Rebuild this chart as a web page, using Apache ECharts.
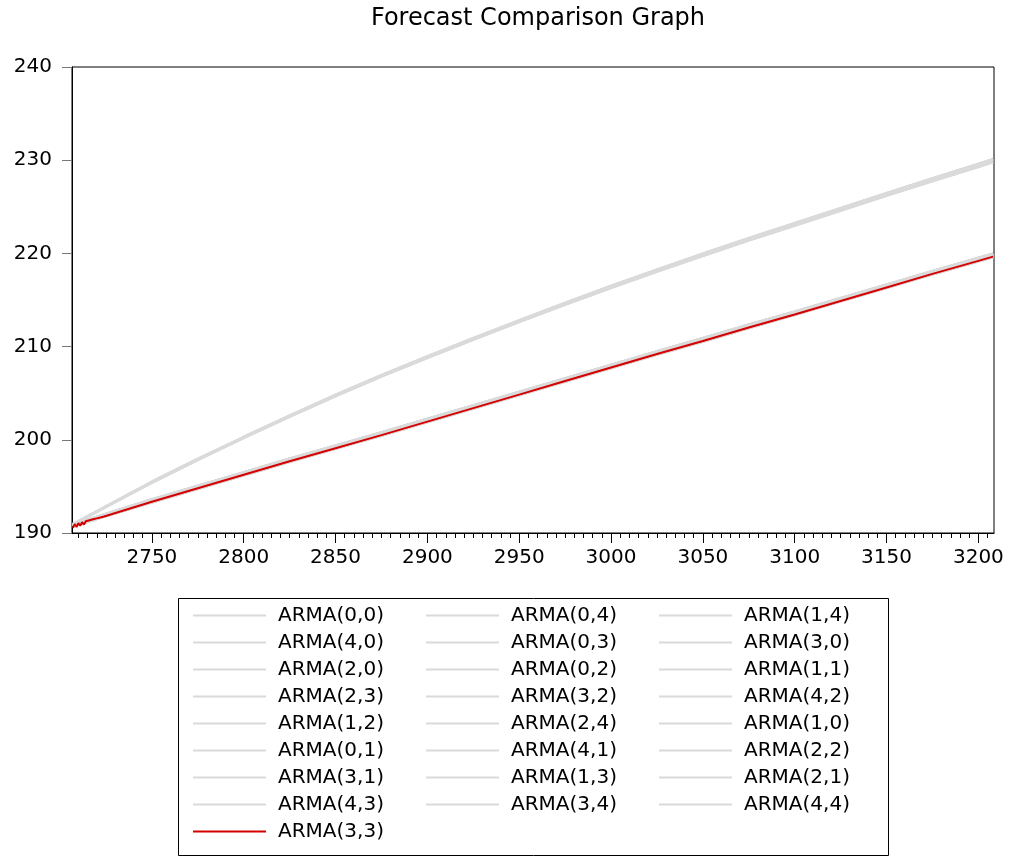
<!DOCTYPE html>
<html>
<head>
<meta charset="utf-8">
<script src="https://cdn.jsdelivr.net/npm/echarts@6/dist/echarts.min.js"></script>
<style>html,body{margin:0;padding:0;background:#fff}#c{width:1014px;height:858px}</style>
</head>
<body>
<div id="c"></div>
<script>
const titleText = 'Forecast Comparison Graph';
const xTickLabels = [2750, 2800, 2850, 2900, 2950, 3000, 3050, 3100, 3150, 3200];
const yTicks = [190, 200, 210, 220, 230, 240];
const seriesNames = ['ARMA(0,0)','ARMA(0,4)','ARMA(1,4)','ARMA(4,0)','ARMA(0,3)','ARMA(3,0)','ARMA(2,0)','ARMA(0,2)','ARMA(1,1)','ARMA(2,3)','ARMA(3,2)','ARMA(4,2)','ARMA(1,2)','ARMA(2,4)','ARMA(1,0)','ARMA(0,1)','ARMA(4,1)','ARMA(2,2)','ARMA(3,1)','ARMA(1,3)','ARMA(2,1)','ARMA(4,3)','ARMA(3,4)','ARMA(4,4)','ARMA(3,3)'];

const periods = [2707, 2725, 2750, 2775, 2800, 2825, 2850, 2875, 2900, 2925, 2950, 2975, 3000, 3025, 3050, 3075, 3100, 3125, 3150, 3175, 3200, 3208];
const upperA = [190.9, 192.8, 195.4, 197.85, 200.2, 202.5, 204.7, 206.8, 208.8, 210.75, 212.65, 214.5, 216.3, 218.05, 219.75, 221.4, 223.0, 224.6, 226.2, 227.75, 229.3, 229.8];
const upperB = [190.95, 192.85, 195.5, 197.95, 200.3, 202.6, 204.82, 206.93, 208.94, 210.9, 212.82, 214.68, 216.5, 218.26, 219.97, 221.63, 223.25, 224.86, 226.47, 228.04, 229.6, 230.1];
const lowerA = [190.88, 192.05, 193.6, 195.06, 196.51, 197.96, 199.37, 200.79, 202.24, 203.69, 205.14, 206.59, 208.04, 209.49, 210.9, 212.35, 213.75, 215.2, 216.65, 218.1, 219.51, 219.96];
const lowerB = [190.8, 191.93, 193.46, 194.91, 196.36, 197.81, 199.22, 200.63, 202.08, 203.53, 204.98, 206.43, 207.88, 209.33, 210.74, 212.19, 213.59, 215.04, 216.49, 217.94, 219.35, 219.8];
const lowerC = [190.72, 191.82, 193.3, 194.75, 196.2, 197.65, 199.05, 200.45, 201.9, 203.35, 204.8, 206.25, 207.7, 209.15, 210.55, 212.0, 213.4, 214.85, 216.3, 217.75, 219.15, 219.6];

const redPeriods = [2707, 2708, 2709, 2710, 2711, 2712, 2713, 2714, 2715, 2716, 2717, 2718, 2719, 2720, 2721, 2722, 2723, 2724, 2725, 2750, 2775, 2800, 2825, 2850, 2875, 2900, 2925, 2950, 2975, 3000, 3025, 3050, 3075, 3100, 3125, 3150, 3175, 3200, 3208];
const redValues = [190.55, 190.95, 190.65, 191.06, 190.78, 191.16, 190.91, 191.26, 191.05, 191.37, 191.18, 191.47, 191.32, 191.57, 191.46, 191.67, 191.60, 191.77, 191.76, 193.35, 194.8, 196.25, 197.7, 199.1, 200.5, 201.95, 203.4, 204.85, 206.3, 207.75, 209.2, 210.6, 212.05, 213.45, 214.9, 216.35, 217.8, 219.2, 219.65];

// which value list each gray series follows (same order as seriesNames, minus the last red one)
const grayGroups = ['upperA','lowerA','lowerB','lowerC','upperB','lowerA','lowerB','upperA','lowerC','lowerA','lowerB','lowerC','lowerA','lowerB','upperB','upperA','lowerC','lowerA','lowerB','lowerC','lowerA','upperB','lowerB','lowerC'];
const groupValues = {upperA, upperB, lowerA, lowerB, lowerC};

const minorTicks = [];
for (let v = 2710; v <= 3205; v += 5) minorTicks.push(v);

const FONT = 'DejaVu Sans';
const GRAY = '#dadada';
const RED = '#d40000';

function pairs(xs, ys) { return xs.map((x, i) => [x, ys[i]]); }

const series = [];
const legendData = [];
seriesNames.forEach((name, i) => {
  const isRed = i === seriesNames.length - 1;
  const color = isRed ? RED : GRAY;
  series.push({
    name, type: 'line', symbol: 'none', silent: true, z: isRed ? 5 : 2,
    data: isRed ? pairs(redPeriods, redValues) : pairs(periods, groupValues[grayGroups[i]]),
    lineStyle: {color, width: isRed ? 2 : 2.5},
    itemStyle: {color}
  });
  legendData.push({name, itemStyle: {color, borderWidth: 0}});
});

const chart = echarts.init(document.getElementById('c'), null, {renderer: 'canvas'});
chart.setOption({
  animation: false,
  backgroundColor: '#fff',
  title: {
    text: titleText, left: 533, top: 2, textAlign: 'center',
    textStyle: {fontFamily: FONT, fontSize: 24, fontWeight: 'normal', color: '#000'}
  },
  grid: {left: 72, right: 20, top: 67, bottom: 325, show: true, borderColor: '#000', borderWidth: 1, containLabel: false},
  xAxis: [{
    type: 'value', min: 2706.5, max: 3208.5, position: 'bottom',
    splitLine: {show: false},
    axisLine: {lineStyle: {color: '#000', width: 1}},
    axisTick: {show: true, inside: false, length: 10, customValues: xTickLabels, lineStyle: {color: '#000'}},
    axisLabel: {customValues: xTickLabels, margin: 15, fontFamily: FONT, fontSize: 20, color: '#000',
      formatter: v => String(v)}
  }, {
    type: 'value', min: 2706.5, max: 3208.5, position: 'bottom',
    splitLine: {show: false},
    axisLine: {show: false},
    axisTick: {show: true, inside: false, length: 5, customValues: minorTicks, lineStyle: {color: '#000'}},
    axisLabel: {show: false}
  }],
  yAxis: {
    type: 'value', min: yTicks[0], max: yTicks[yTicks.length - 1], interval: 10,
    splitLine: {show: false},
    axisLine: {show: true, lineStyle: {color: '#000', width: 1}},
    axisTick: {show: true, inside: false, length: 10, lineStyle: {color: '#777'}},
    axisLabel: {margin: 20, fontFamily: FONT, fontSize: 20, color: '#000', padding: [0, 0, 6, 0]}
  },
  legend: {
    left: 193, top: 602, width: 700, padding: 0,
    itemGap: 0, itemWidth: 73, itemHeight: 14,
    icon: 'path://M0,6L73,6L73,8L0,8Z',
    itemStyle: {borderWidth: 0},
    selectedMode: false,
    textStyle: {fontFamily: FONT, fontSize: 20, color: '#000', width: 148, lineHeight: 27, padding: [0, 0, 0, 7]},
    data: legendData
  },
  graphic: [{
    type: 'rect', silent: true,
    shape: {x: 178.5, y: 598.5, width: 710, height: 257},
    style: {fill: 'none', stroke: '#000', lineWidth: 1}
  }],
  series
});
</script>
</body>
</html>
